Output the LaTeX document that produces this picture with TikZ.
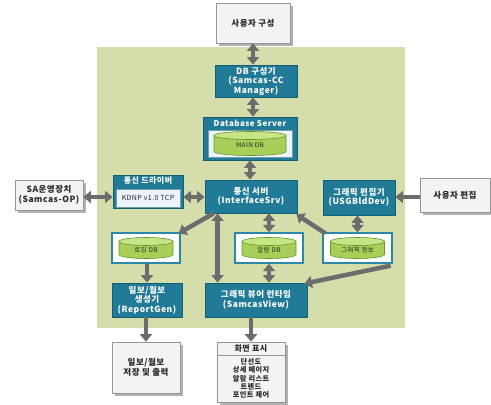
\documentclass[tikz,border=0pt]{standalone}
\usepackage{fontspec}
\setmainfont{Noto Sans CJK KR}
\newfontfamily\krw{Noto Sans CJK KR}[LetterSpace=6]
\usetikzlibrary{arrows.meta,shadows,calc}
\definecolor{tealc}{RGB}{33,122,150}
\definecolor{tealdk}{RGB}{20,95,120}
\definecolor{bgg}{RGB}{213,222,170}
\definecolor{boxg}{RGB}{243,243,243}
\definecolor{boxb}{RGB}{150,150,150}
\definecolor{txtd}{RGB}{40,40,40}
\definecolor{arrg}{RGB}{108,108,108}
\definecolor{cylf}{RGB}{168,208,88}
\definecolor{cylt}{RGB}{200,228,135}
\definecolor{cylb}{RGB}{100,150,45}
\definecolor{dbblue}{RGB}{45,135,170}
\definecolor{inbg}{RGB}{236,244,249}
\newcommand\dbcyl[6]{%
  \fill[cylf] ({#1-#3},{#2-#4+4}) -- ({#1-#3},{#2+#4-4})
    arc[start angle=180,end angle=360,x radius=#3pt,y radius=4pt]
    -- ({#1+#3},{#2-#4+4})
    arc[start angle=0,end angle=180,x radius=#3pt,y radius=4pt] -- cycle;
  \draw[cylb,line width=0.6pt] ({#1-#3},{#2-#4+4}) -- ({#1-#3},{#2+#4-4})
    arc[start angle=180,end angle=360,x radius=#3pt,y radius=4pt]
    -- ({#1+#3},{#2-#4+4});
  \draw[cylb,line width=0.6pt,fill=cylt] (#1,{#2-#4+4}) ellipse[x radius=#3pt,y radius=4pt];
  \node[cyltext] (#6) at (#1,{#2+2}) {#5};
}
\begin{document}
\begin{tikzpicture}[x=1pt,y=-1pt,
  tbox/.style={draw=tealdk,fill=tealc,line width=0.8pt,text=white,
    font=\krw\fontsize{8.5}{9.5}\selectfont\bfseries,align=center,inner sep=1pt},
  gbox/.style={draw=boxb,fill=boxg,line width=0.7pt,text=txtd,
    font=\krw\fontsize{8.5}{9.5}\selectfont\bfseries,align=center,inner sep=1pt,
    drop shadow={shadow xshift=2.5pt,shadow yshift=-2.5pt,fill=black!30,opacity=1}},
  dbbox/.style={draw=dbblue,fill=white,line width=1.3pt,inner sep=0pt},
  inbox/.style={draw=tealdk!60,fill=inbg,line width=0.5pt,inner sep=0pt,text=txtd,
    font=\krw\fontsize{7}{8}\selectfont},
  hdr/.style={text=white,font=\krw\fontsize{8}{9}\selectfont\bfseries,inner sep=0pt},
  cyltext/.style={text=txtd,font=\krw\fontsize{6.5}{7.5}\selectfont,inner sep=0pt},
  arr/.style={draw=arrg,line width=4.5pt,-{Triangle[width=12pt,length=7.5pt]}},
  darr/.style={draw=arrg,line width=4.5pt,{Triangle[width=12pt,length=7.5pt]}-{Triangle[width=12pt,length=7.5pt]}}
]
\useasboundingbox (0,0) rectangle (491,405);
\fill[white] (0,0) rectangle (491,405);
\fill[bgg] (97,47) rectangle (405,328);

% outer boxes
\node[gbox,minimum width=74pt,minimum height=40pt] (ucfg) at (253,23) {사용자 구성};
\node[gbox,minimum width=68pt,minimum height=30pt] (saop) at (49,195) {SA운영장치\\(Samcas-OP)};
\node[gbox,minimum width=70pt,minimum height=34pt] (uedit) at (455,195) {사용자 편집};
\node[gbox,minimum width=68pt,minimum height=51pt] (out) at (146,367.5) {일보/월보\\저장 및 출력};
\node[gbox,minimum width=68pt,minimum height=60pt] (disp) at (251,372) {};
\draw[boxb,line width=0.6pt] (disp.west |- 0,355) -- (disp.east |- 0,355);
\node[text=txtd,font=\krw\fontsize{8}{8.5}\selectfont\bfseries,inner sep=0pt] (disphd) at (251,348.5) {화면 표시};
\node[text=txtd,font=\krw\fontsize{7.2}{8.4}\selectfont\bfseries,align=center,inner sep=0pt] (displist) at (251,378.5) {단선도\\상세 페이지\\알람 리스트\\트렌드\\포인트 제어};

% teal boxes
\node[tbox,minimum width=82pt,minimum height=32pt] (dbc) at (256,81) {DB 구성기\\(Samcas-CC\\Manager)};
\node[tbox,minimum width=94pt,minimum height=43pt] (dbs) at (250,138.5) {};
\node[hdr] (dbshd) at (250,123.5) {Database Server};
\node[inbox,minimum width=84pt,minimum height=27pt] (dbsin) at (250,144) {};
\dbcyl{250}{143.5}{36}{12}{MAIN DB}{maindb}

\node[tbox,minimum width=70pt,minimum height=33pt] (drv) at (148,191.5) {};
\node[hdr] (drvhd) at (148,181) {통신 드라이버};
\node[inbox,minimum width=64pt,minimum height=18pt] (kdnp) at (148,198) {KDNP v1.0 TCP};

\node[tbox,minimum width=92pt,minimum height=33pt] (srv) at (251,196.5) {통신 서버\\(InterfaceSrv)};
\node[tbox,minimum width=72pt,minimum height=35pt] (ged) at (359,197.5) {그래픽 편집기\\(USGBldDev)};

% DB boxes
\node[dbbox,minimum width=68pt,minimum height=30pt] (log) at (146,248) {};
\dbcyl{146}{248}{27}{10.5}{로깅 DB}{logdb}
\node[dbbox,minimum width=68pt,minimum height=30pt] (alm) at (269,248) {};
\dbcyl{269}{248}{27}{10.5}{알람 DB}{almdb}
\node[dbbox,minimum width=69pt,minimum height=30pt] (gin) at (357.5,248) {};
\dbcyl{357.5}{248}{27}{10.5}{그래픽 정보}{gindb}

\node[tbox,minimum width=70pt,minimum height=34pt] (rep) at (147,300) {일보/월보\\생성기\\(ReportGen)};
\node[tbox,minimum width=102pt,minimum height=34pt] (view) at (256,300) {그래픽 뷰어 런타임\\(SamcasView)};

% arrows
\draw[darr] (ucfg.south) -- (ucfg.south |- dbc.north);
\draw[darr] (ucfg.south |- dbc.south) -- (ucfg.south |- dbs.north);
\draw[darr] (dbs.south) -- (dbs.south |- srv.north);
\draw[darr] (saop.east |- 0,197) -- (drv.west |- 0,197);
\draw[darr] (drv.east |- 0,197) -- (srv.west |- 0,197);
\draw[arr] (uedit.west |- 0,197) -- (ged.east |- 0,197);
\draw[arr] ($(srv.south west)+(9,0)$) -- ($(log.north east)+(-2,1)$);
\draw[darr] (alm.north |- srv.south) -- (alm.north);
\draw[arr] ($(gin.north west)+(3,1)$) -- ($(srv.south east)+(-1,1)$);
\draw[darr] (gin.north |- ged.south) -- (gin.north);
\coordinate (vtop) at ($(view.north west)+(13,0)$);
\draw[darr] (vtop) -- (vtop |- srv.south);
\draw[arr] (log.south -| rep.north) -- (rep.north);
\draw[darr] (alm.south) -- (alm.south |- view.north);
\draw[arr] ($(gin.south east)+(-2,2)$) -- ($(view.north east)+(-3,1)$);
\draw[arr] (rep.south -| out.north) -- (out.north);
\draw[arr] (disp.north |- view.south) -- (disp.north);
\end{tikzpicture}
\end{document}
